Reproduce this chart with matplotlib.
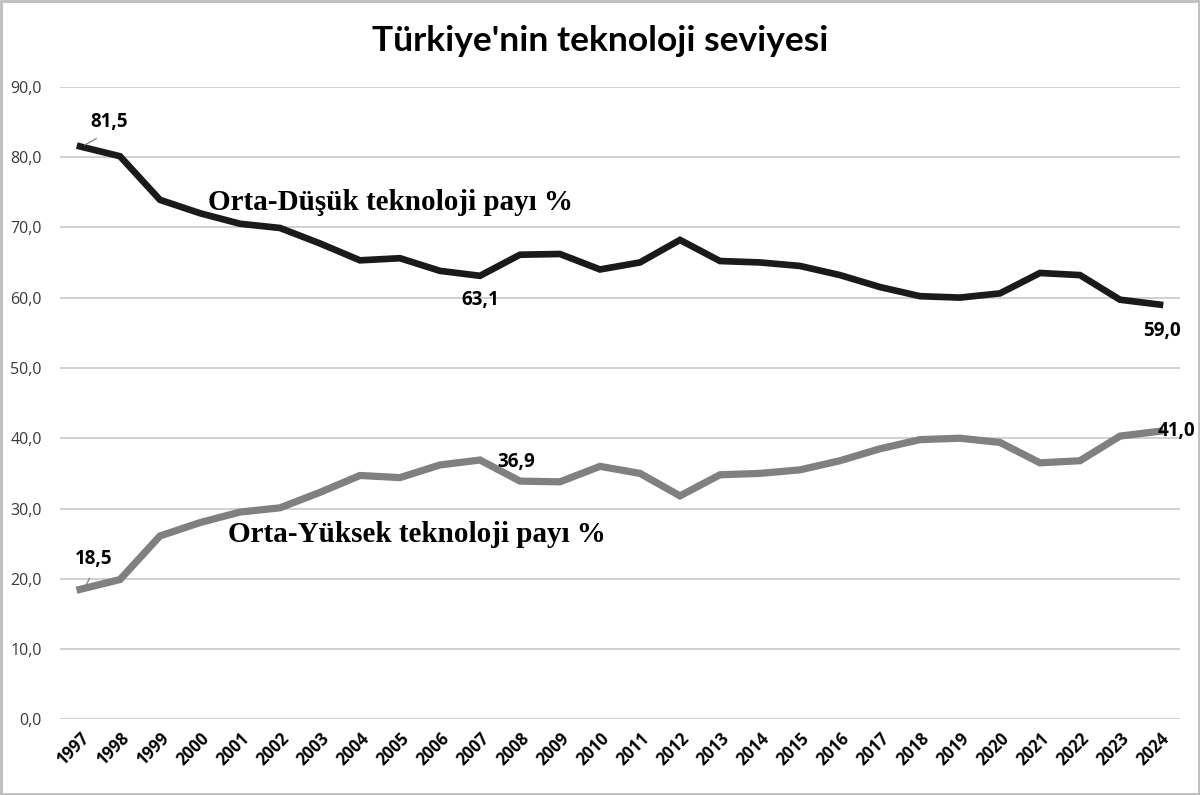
import matplotlib
matplotlib.use('Agg')
import matplotlib.pyplot as plt
from matplotlib.patches import Rectangle

# Data
years = [str(y) for y in range(1997, 2025)]
orta_dusuk = [81.5, 80.1, 73.9, 72.0, 70.5, 69.9, 67.7, 65.3, 65.6, 63.8,
              63.1, 66.1, 66.2, 64.0, 65.0, 68.2, 65.2, 65.0, 64.5, 63.2,
              61.5, 60.2, 60.0, 60.6, 63.5, 63.2, 59.7, 59.0]
orta_yuksek = [18.5, 19.9, 26.1, 28.0, 29.5, 30.1, 32.3, 34.7, 34.4, 36.2,
               36.9, 33.9, 33.8, 36.0, 35.0, 31.8, 34.8, 35.0, 35.5, 36.8,
               38.5, 39.8, 40.0, 39.4, 36.5, 36.8, 40.3, 41.0]
yticks = [0, 10, 20, 30, 40, 50, 60, 70, 80, 90]

plt.rcParams['font.family'] = ['Open Sans', 'DejaVu Sans']

fig = plt.figure(figsize=(12, 7.95), dpi=100)
ax = fig.add_axes([0.05, 0.095, 0.9333, 0.796])

x = list(range(len(years)))
ax.plot(x, orta_dusuk, color='#1a1a1a', lw=4.8, solid_joinstyle='miter', zorder=3)
ax.plot(x, orta_yuksek, color='#808080', lw=5.2, solid_joinstyle='miter', zorder=3)

ax.set_xlim(-0.5, len(years) - 0.5)
ax.set_ylim(0, 90)
ax.set_yticks(yticks)
ax.set_yticklabels([f'{v:.1f}'.replace('.', ',') for v in yticks],
                   fontsize=11.5, color='#3a3a3a')
ax.set_xticks(x)
ax.set_xticklabels(years, rotation=45, ha='right', rotation_mode='anchor',
                   fontsize=12, fontweight='bold', color='black')
ax.tick_params(axis='y', length=0, pad=13)
ax.tick_params(axis='x', length=0, pad=7)
ax.grid(axis='y', color='#c8c8c8', lw=1.2)
ax.set_axisbelow(True)
for s in ax.spines.values():
    s.set_visible(False)

# Title
fig.text(0.5, 0.949, "Türkiye'nin teknoloji seviyesi", ha='center', va='center',
         fontsize=25.5, fontweight='bold', family=['Lato', 'DejaVu Sans'])

# Series labels
serif = ['Liberation Serif', 'DejaVu Serif']
ax.text(3.2, 73.5, 'Orta-Düşük teknoloji payı %', fontsize=21, fontweight='bold',
        family=serif, va='center', ha='left')
ax.text(3.7, 26.3, 'Orta-Yüksek teknoloji payı %', fontsize=21, fontweight='bold',
        family=serif, va='center', ha='left')

# Value labels
ax.annotate('81,5', xy=(0.05, orta_dusuk[0]), xytext=(0.72, 85.0),
            ha='center', va='center', fontsize=13.5, fontweight='bold',
            arrowprops=dict(arrowstyle='-', color='#808080', lw=0.9,
                            relpos=(0.5, 0), shrinkA=6, shrinkB=2))
ax.annotate('18,5', xy=(0.1, orta_yuksek[0]), xytext=(0.35, 22.8),
            ha='center', va='center', fontsize=13.5, fontweight='bold',
            arrowprops=dict(arrowstyle='-', color='#808080', lw=0.9,
                            relpos=(0.5, 0), shrinkA=5, shrinkB=2))
ax.text(10, 59.6, '63,1', ha='center', va='center', fontsize=13.5, fontweight='bold')
ax.text(10.9, 36.6, '36,9', ha='center', va='center', fontsize=13.5, fontweight='bold')
ax.text(27.05, 55.2, '59,0', ha='center', va='center', fontsize=13.5, fontweight='bold')
ax.text(27.4, 41.0, '41,0', ha='center', va='center', fontsize=13.5, fontweight='bold')

# Frame around image
fig.patches.append(Rectangle((0.001, 0.001), 0.998, 0.998, transform=fig.transFigure,
                             fill=False, edgecolor='#bdbdbd', lw=2))

fig.savefig('out.png', dpi=100)
